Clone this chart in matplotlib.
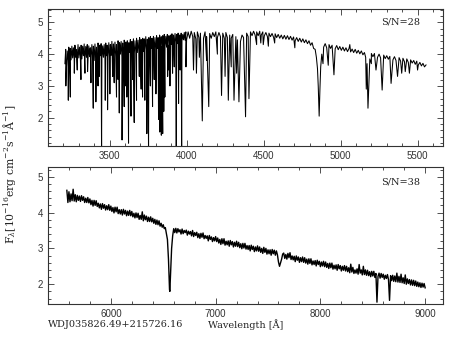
import matplotlib

matplotlib.use("Agg")
import matplotlib.pyplot as plt
from matplotlib.ticker import MultipleLocator

# blue arm: continuum band, hand-read, the zig-zag follows the noise envelope
top_wave = [
    3210, 3215, 3220, 3225, 3230, 3235, 3240, 3245, 3250, 3255,
    3260, 3265, 3270, 3275, 3280, 3285, 3290, 3295, 3300, 3305,
    3310, 3315, 3320, 3325, 3330, 3335, 3340, 3345, 3350, 3355,
    3360, 3365, 3370, 3375, 3380, 3385, 3390, 3395, 3400, 3405,
    3410, 3415, 3420, 3425, 3430, 3435, 3440, 3445, 3450, 3455,
    3460, 3465, 3470, 3475, 3480, 3485, 3490, 3495, 3500, 3505,
    3510, 3515, 3520, 3525, 3530, 3535, 3540, 3545, 3550, 3555,
    3560, 3565, 3570, 3575, 3580, 3585, 3590, 3595, 3600, 3605,
    3610, 3615, 3620, 3625, 3630, 3635, 3640, 3645, 3650, 3655,
    3660, 3665, 3670, 3675, 3680, 3685, 3690, 3695, 3700, 3705,
    3710, 3715, 3720, 3725, 3730, 3735, 3740, 3745, 3750, 3755,
    3760, 3765, 3770, 3775, 3780, 3785, 3790, 3795, 3800, 3805,
    3810, 3815, 3820, 3825, 3830, 3835, 3840, 3845, 3850, 3855,
    3860, 3865, 3870, 3875, 3880, 3885, 3890, 3895, 3900, 3905,
    3910, 3915, 3920, 3925, 3930, 3935, 3940, 3945, 3950, 3955,
    3960, 3965, 3970, 3975, 3980, 3985, 3990, 3995,
    4000, 4010, 4020, 4030, 4040, 4050, 4060, 4070, 4080, 4090,
    4110, 4120, 4130, 4150, 4160, 4170, 4180, 4190, 4200, 4210,
    4220, 4235, 4245, 4255, 4265, 4280, 4290, 4300, 4320, 4330,
    4350, 4360, 4370, 4390, 4400, 4415, 4425, 4435, 4445, 4455,
    4465, 4475, 4485, 4495, 4505, 4515, 4525, 4535, 4545, 4555,
    4565, 4575, 4585, 4595, 4605, 4615, 4625, 4635, 4645, 4655,
    4665, 4675, 4685, 4695, 4705, 4715, 4725, 4735, 4745, 4755,
    4765, 4775, 4785, 4795, 4805, 4815, 4825, 4835, 4843, 4850,
    4855, 4861, 4866, 4871, 4878, 4890, 4900, 4910, 4925, 4935,
    4945, 4965, 4975, 4985, 4995, 5005, 5015, 5025, 5035, 5045,
    5055, 5065, 5075, 5085, 5095, 5105, 5115, 5125, 5135, 5145,
    5155, 5163, 5172, 5190, 5200, 5210, 5220, 5240, 5250, 5260,
    5280, 5290, 5300, 5310, 5320, 5340, 5350, 5360, 5380, 5390,
    5405, 5415, 5430, 5440, 5455, 5465, 5475, 5485, 5495, 5505,
    5515, 5525, 5535, 5545, 5555,
]
top_flux = [
    3.70, 4.15, 3.60, 4.10, 3.80, 4.22, 3.85, 4.18, 3.82, 4.25,
    3.88, 4.20, 3.85, 4.28, 3.90, 4.15, 3.82, 4.30, 3.88, 4.22,
    3.92, 4.28, 3.85, 4.25, 3.95, 4.32, 3.86, 4.24, 3.90, 4.30,
    3.84, 4.26, 3.92, 4.20, 3.85, 4.30, 3.90, 4.25, 3.80, 4.32,
    3.88, 4.22, 3.92, 4.35, 3.85, 4.28, 3.95, 4.33, 3.88, 4.26,
    3.90, 4.30, 3.86, 4.35, 3.95, 4.28, 3.90, 4.36, 3.92, 4.30,
    3.96, 4.40, 3.90, 4.32, 3.98, 4.38, 3.92, 4.30, 3.95, 4.42,
    3.94, 4.36, 4.00, 4.40, 3.92, 4.35, 4.02, 4.44, 3.96, 4.38,
    4.00, 4.42, 3.98, 4.36, 4.05, 4.46, 3.98, 4.40, 4.04, 4.48,
    4.02, 4.42, 4.08, 4.50, 4.05, 4.44, 4.10, 4.52, 4.06, 4.46,
    4.10, 4.50, 4.08, 4.48, 4.14, 4.55, 4.10, 4.47, 4.15, 4.52,
    4.12, 4.55, 4.18, 4.50, 4.14, 4.56, 4.20, 4.52, 4.16, 4.58,
    4.18, 4.52, 4.22, 4.60, 4.16, 4.55, 4.24, 4.58, 4.20, 4.62,
    4.25, 4.56, 4.22, 4.62, 4.28, 4.58, 4.24, 4.60, 4.30, 4.64,
    4.32, 4.60, 4.30, 4.65, 4.35, 4.62, 4.33, 4.66, 4.38, 4.60,
    4.40, 4.66, 4.42, 4.62, 4.45, 4.68, 4.44, 4.70,
    4.45, 4.70, 4.50, 4.72, 4.55, 4.68, 4.48, 4.70, 4.52, 4.66,
    4.50, 4.70, 4.55, 4.65, 4.50, 4.68, 4.55, 4.70, 4.52, 4.68,
    4.55, 4.66, 4.50, 4.68, 4.52, 4.60, 4.50, 4.62, 4.55, 4.45,
    4.40, 4.60, 4.52, 4.66, 4.55, 4.70, 4.58, 4.72, 4.60, 4.70,
    4.58, 4.72, 4.60, 4.70, 4.58, 4.68, 4.55, 4.66, 4.55, 4.65,
    4.53, 4.64, 4.52, 4.62, 4.50, 4.60, 4.48, 4.59, 4.47, 4.58,
    4.46, 4.56, 4.44, 4.54, 4.42, 4.52, 4.40, 4.50, 4.38, 4.48,
    4.36, 4.45, 4.33, 4.42, 4.28, 4.36, 4.18, 4.15, 3.90, 3.55,
    3.00, 2.05, 2.90, 3.60, 4.00, 4.22, 4.33, 4.20, 4.30, 4.18,
    4.28, 4.17, 4.27, 4.14, 4.24, 4.12, 4.22, 4.10, 4.20, 4.08,
    4.18, 4.07, 4.16, 4.05, 4.15, 4.03, 4.12, 4.01, 4.10, 3.98,
    4.05, 3.90, 3.70, 3.85, 4.02, 3.92, 4.02, 3.90, 4.00, 3.88,
    3.97, 3.86, 3.95, 3.84, 3.93, 3.82, 3.92, 3.80, 3.89, 3.78,
    3.87, 3.76, 3.85, 3.74, 3.82, 3.72, 3.80, 3.68, 3.78, 3.66,
    3.74, 3.63, 3.71, 3.60, 3.66,
]

# blue arm: narrow absorption lines (centre, minimum flux)
top_line_wave = [
    3216, 3232, 3245, 3271, 3290, 3314, 3340, 3357, 3379, 3394,
    3411, 3425, 3433, 3448, 3472, 3487, 3502, 3520, 3530, 3545,
    3555, 3563, 3581, 3595, 3605, 3612, 3623, 3639, 3650, 3660,
    3675, 3693, 3705, 3714, 3729, 3742, 3753, 3765, 3779, 3790,
    3801, 3818, 3826, 3836, 3845, 3852, 3859, 3877, 3885, 3892,
    3909, 3920, 3933, 3948, 3958, 3968, 3996, 4045, 4064, 4083,
    4102, 4130, 4144, 4200, 4227, 4250, 4271, 4290, 4308, 4325,
    4340, 4383, 4405, 4455, 4482, 4498, 4531, 4572, 4703, 4886,
    4920, 4957, 5060, 5167, 5178, 5200, 5230, 5270, 5328, 5370,
    5397, 5420, 5447, 5500,
]
top_line_flux = [
    3.00, 2.55, 2.65, 3.40, 3.50, 3.20, 3.40, 3.45, 3.10, 2.30,
    2.50, 3.00, 3.30, 0.90, 2.55, 2.25, 2.75, 3.30, 3.10, 2.65,
    3.20, 2.15, 1.30, 2.35, 3.00, 2.65, 1.20, 2.05, 3.20, 1.85,
    2.55, 3.30, 2.90, 2.65, 2.55, 1.50, 0.90, 3.00, 2.35, 3.20,
    2.75, 1.95, 1.55, 1.45, 1.50, 2.20, 2.65, 3.30, 3.50, 3.00,
    3.40, 3.60, 0.90, 2.45, 3.50, 0.90, 3.60, 3.50, 3.40, 3.90,
    1.90, 3.80, 2.35, 4.00, 2.70, 3.30, 2.55, 3.60, 2.55, 3.40,
    2.50, 2.03, 2.60, 4.30, 4.35, 4.30, 4.25, 4.35, 4.20, 3.70,
    3.65, 3.35, 4.30, 2.90, 2.30, 3.70, 3.50, 2.87, 3.08, 3.30,
    3.40, 3.45, 3.40, 3.50,
]

# red arm
bot_wave = [
    5580, 5590,
    5600, 5610, 5620, 5630, 5640, 5650, 5660, 5670, 5680, 5690,
    5700, 5710, 5720, 5730, 5740, 5750, 5760, 5770, 5780, 5790,
    5800, 5810, 5820, 5830, 5840, 5850, 5860, 5870, 5880, 5890,
    5900, 5910, 5920, 5930, 5940, 5950, 5960, 5970, 5980, 5990,
    6000, 6010, 6020, 6030, 6040, 6050, 6060, 6070, 6080, 6090,
    6100, 6110, 6120, 6130, 6140, 6150, 6160, 6170, 6180, 6190,
    6200, 6210, 6220, 6230, 6240, 6250, 6260, 6270, 6280, 6290,
    6300, 6310, 6320, 6330, 6340, 6350, 6360, 6370, 6380, 6390,
    6400, 6410, 6420, 6430, 6440, 6450, 6460, 6470, 6480, 6490,
    6500, 6510, 6520, 6530, 6540, 6550, 6560, 6563, 6570, 6580,
    6590, 6600, 6610,
    6620, 6630, 6640, 6650, 6660, 6670, 6680, 6690, 6700, 6710,
    6720, 6730, 6740, 6750, 6760, 6770, 6780, 6790, 6800, 6810,
    6820, 6830, 6840, 6850, 6860, 6870, 6880, 6890, 6900, 6910,
    6920, 6930, 6940, 6950, 6960, 6970, 6980, 6990, 7000, 7010,
    7020, 7030, 7040, 7050, 7060, 7070, 7080, 7090, 7100, 7110,
    7120, 7130, 7140, 7150, 7160, 7170, 7180, 7190, 7200, 7210,
    7220, 7230, 7240, 7250, 7260, 7270, 7280, 7290, 7300, 7310,
    7320, 7330, 7340, 7350, 7360, 7370, 7380, 7390, 7400, 7410,
    7420, 7430, 7440, 7450, 7460, 7470, 7480, 7490, 7500, 7510,
    7520, 7530, 7540, 7550, 7560, 7570, 7580, 7590,
    7600, 7610, 7620, 7630, 7640,
    7650, 7660, 7670, 7680, 7690, 7700, 7710, 7720, 7730, 7740,
    7750, 7760, 7770, 7780, 7790, 7800, 7810, 7820, 7830, 7840,
    7850, 7860, 7870, 7880, 7890, 7900, 7910, 7920, 7930, 7940,
    7950, 7960, 7970, 7980, 7990, 8000, 8010, 8020, 8030, 8040,
    8050, 8060, 8070, 8080, 8090, 8100, 8110, 8120, 8130, 8140,
    8150, 8160, 8170, 8180, 8190, 8200, 8210, 8220, 8230, 8240,
    8250, 8260, 8270, 8280, 8290, 8300, 8310, 8320, 8330, 8340,
    8350, 8360, 8370, 8380, 8390, 8400, 8410, 8420, 8430, 8440,
    8450, 8460, 8470, 8480, 8490, 8500, 8510, 8520,
    8530, 8540, 8550,
    8560, 8570, 8580, 8590, 8600, 8610, 8620, 8630, 8640,
    8650, 8660, 8670,
    8680, 8690, 8700, 8710, 8720, 8730, 8740, 8750, 8760, 8770,
    8780, 8790, 8800, 8810, 8820, 8830, 8840, 8850, 8860, 8870,
    8880, 8890, 8900, 8910, 8920, 8930, 8940, 8950, 8960, 8970,
    8980, 8990, 9000,
]
bot_flux = [
    4.62, 4.28,
    4.58, 4.30, 4.52, 4.33, 4.65, 4.32, 4.50, 4.30, 4.48, 4.34,
    4.46, 4.31, 4.47, 4.34, 4.44, 4.28, 4.40, 4.28, 4.42, 4.27,
    4.38, 4.22, 4.34, 4.18, 4.34, 4.20, 4.33, 4.17, 4.26, 4.13,
    4.24, 4.09, 4.25, 4.12, 4.22, 4.07, 4.19, 4.08, 4.22, 4.06,
    4.18, 4.03, 4.14, 3.99, 4.15, 4.02, 4.15, 3.97, 4.08, 3.96,
    4.08, 3.93, 4.09, 3.96, 4.06, 3.91, 4.04, 3.92, 4.06, 3.91,
    4.03, 3.88, 3.98, 3.85, 3.99, 3.86, 3.98, 3.81, 3.92, 3.81,
    4.02, 3.77, 3.93, 3.80, 3.90, 3.75, 3.87, 3.75, 3.88, 3.74,
    3.84, 3.70, 3.81, 3.67, 3.79, 3.66, 3.77, 3.62, 3.70, 3.59,
    3.66, 3.55, 3.58, 3.42, 3.25, 2.70, 1.85, 1.80, 2.30, 3.00,
    3.35, 3.55, 3.44,
    3.56, 3.43, 3.55, 3.46, 3.52, 3.40, 3.54, 3.41, 3.50, 3.44,
    3.51, 3.37, 3.48, 3.40, 3.47, 3.35, 3.50, 3.33, 3.44, 3.36,
    3.45, 3.30, 3.41, 3.28, 3.42, 3.31, 3.43, 3.27, 3.36, 3.28,
    3.35, 3.21, 3.36, 3.25, 3.32, 3.19, 3.30, 3.21, 3.33, 3.19,
    3.29, 3.15, 3.25, 3.11, 3.27, 3.13, 3.27, 3.09, 3.20, 3.10,
    3.21, 3.06, 3.22, 3.10, 3.19, 3.04, 3.17, 3.06, 3.20, 3.05,
    3.17, 3.02, 3.13, 2.99, 3.14, 3.01, 3.14, 2.98, 3.08, 2.97,
    3.08, 2.93, 3.09, 2.97, 3.06, 2.91, 3.04, 2.93, 3.07, 2.92,
    3.04, 2.89, 3.00, 2.86, 3.03, 2.89, 3.00, 2.84, 2.96, 2.85,
    2.96, 2.81, 2.97, 2.85, 2.95, 2.81, 2.93, 2.82,
    2.62, 2.50, 2.60, 2.70, 2.84,
    2.87, 2.72, 2.83, 2.70, 2.86, 2.74, 2.88, 2.69, 2.79, 2.68,
    2.78, 2.63, 2.79, 2.67, 2.76, 2.61, 2.74, 2.63, 2.76, 2.61,
    2.74, 2.59, 2.70, 2.56, 2.71, 2.58, 2.71, 2.54, 2.65, 2.55,
    2.66, 2.51, 2.67, 2.55, 2.64, 2.49, 2.62, 2.51, 2.64, 2.49,
    2.62, 2.47, 2.58, 2.44, 2.59, 2.46, 2.59, 2.42, 2.53, 2.43,
    2.54, 2.39, 2.55, 2.43, 2.52, 2.37, 2.50, 2.39, 2.52, 2.37,
    2.50, 2.35, 2.46, 2.32, 2.56, 2.34, 2.47, 2.30, 2.40, 2.31,
    2.43, 2.28, 2.55, 2.31, 2.40, 2.26, 2.50, 2.27, 2.40, 2.25,
    2.39, 2.24, 2.35, 2.21, 2.36, 2.23, 2.36, 2.19,
    2.30, 1.50, 2.22,
    2.31, 2.17, 2.30, 2.19, 2.28, 2.14, 2.25, 2.16, 2.27,
    2.13, 1.55, 2.24,
    2.10, 2.25, 2.08, 2.23, 2.07, 2.31, 2.06, 2.22, 2.05, 2.28,
    2.04, 2.18, 2.02, 2.26, 2.00, 2.15, 2.02, 2.13, 1.98, 2.12,
    1.97, 2.11, 1.96, 2.09, 1.94, 2.06, 1.93, 2.04, 1.91, 2.03,
    1.92, 2.02, 1.90,
]

star_name = "WDJ035826.49+215726.16"
snr_labels = ["S/N=28", "S/N=38"]

plt.rcParams["font.family"] = "DejaVu Serif"
plt.rcParams["mathtext.fontset"] = "dejavuserif"


def style_axis(ax, xmajor, xminor):
    ax.xaxis.set_major_locator(MultipleLocator(xmajor))
    ax.xaxis.set_minor_locator(MultipleLocator(xminor))
    ax.yaxis.set_major_locator(MultipleLocator(1))
    ax.yaxis.set_minor_locator(MultipleLocator(0.2))
    ax.tick_params(which="both", direction="in", top=True, right=True,
                   colors="#333333", labelsize=7, width=0.6)
    ax.tick_params(which="major", length=4)
    ax.tick_params(which="minor", length=2)
    for label in ax.get_xticklabels() + ax.get_yticklabels():
        label.set_family("Liberation Sans")
    for spine in ax.spines.values():
        spine.set_linewidth(0.8)
        spine.set_color("#333333")


fig = plt.figure(figsize=(4.54, 3.41), dpi=100)
ax_top = fig.add_axes([0.1057, 0.5727, 0.8700, 0.4000])
ax_bot = fig.add_axes([0.1057, 0.1076, 0.8700, 0.4026])

top_points = sorted(zip(top_wave + top_line_wave, top_flux + top_line_flux))
ax_top.plot([p[0] for p in top_points], [p[1] for p in top_points],
            color="black", linewidth=0.75)
ax_top.set_xlim(3100, 5665)
ax_top.set_ylim(1.12, 5.41)
style_axis(ax_top, 500, 100)
ax_top.text(0.894, 0.907, snr_labels[0], transform=ax_top.transAxes,
            ha="center", va="center", fontsize=7, color="#222222")

ax_bot.plot(bot_wave, bot_flux, color="black", linewidth=1.0)
ax_bot.set_xlim(5400, 9170)
ax_bot.set_ylim(1.44, 5.27)
style_axis(ax_bot, 1000, 200)
ax_bot.text(0.894, 0.89, snr_labels[1], transform=ax_bot.transAxes,
            ha="center", va="center", fontsize=7, color="#222222")

fig.text(0.022, 0.49,
         r"F$_\lambda$[10$^{-16}$erg cm$^{-2}$s$^{-1}$Å$^{-1}$]",
         rotation=90, ha="center", va="center", fontsize=7.8, color="#222222")
fig.text(0.106, 0.047, star_name, ha="left", va="center", fontsize=7,
         color="#222222")
fig.text(0.541, 0.047, "Wavelength [Å]", ha="center", va="center",
         fontsize=7, color="#222222")

fig.savefig("out.png", dpi=100)
